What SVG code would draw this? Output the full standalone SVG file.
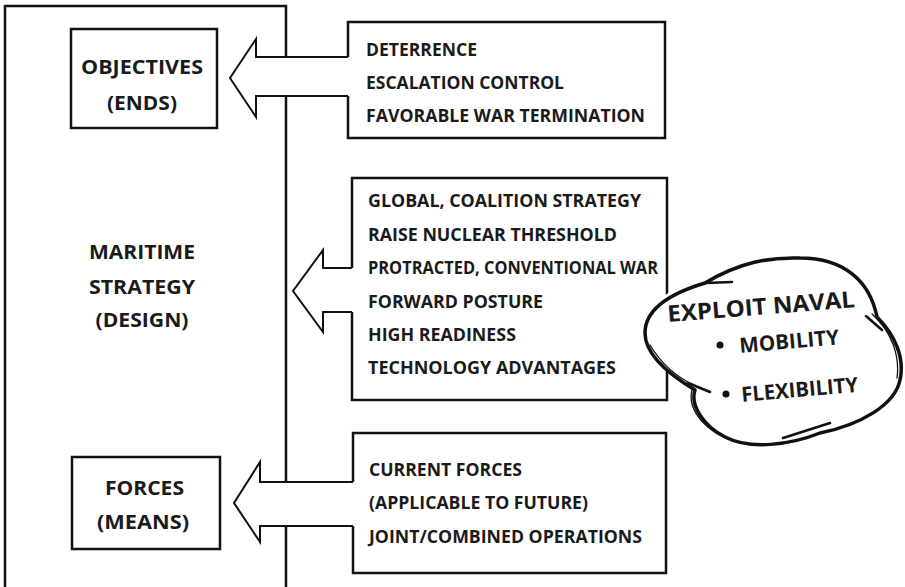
<svg xmlns="http://www.w3.org/2000/svg" width="905" height="587" viewBox="0 0 905 587">
<style>
.t{font-family:"Open Sans","Liberation Sans",sans-serif;font-weight:700;font-size:18px;fill:#1a1a1a}
.c{text-anchor:middle;font-size:19.5px}
.cl{font-size:23px}
.ln{fill:none;stroke:#111;stroke-width:2.5;stroke-linejoin:miter}
.ar{fill:#fff;stroke:none}
.ao{fill:none;stroke:#111;stroke-width:2}
.cloud{fill:none;stroke:#111;stroke-linecap:round;stroke-linejoin:round}
</style>
<rect width="905" height="587" fill="#fff"/>

<g id="frame">
<path class="ln" d="M5,587 V6 H286 V587"/>
</g>

<g id="design">
<text class="t c" x="142" y="259" textLength="106" lengthAdjust="spacingAndGlyphs">MARITIME</text>
<text class="t c" x="142" y="294" textLength="106" lengthAdjust="spacingAndGlyphs">STRATEGY</text>
<text class="t c" x="142" y="327" textLength="93" lengthAdjust="spacingAndGlyphs">(DESIGN)</text>
</g>

<g id="objectives">
<rect class="ln" x="71" y="29" width="146" height="99" fill="#fff"/>
<text class="t c" x="142" y="74" textLength="122" lengthAdjust="spacingAndGlyphs">OBJECTIVES</text>
<text class="t c" x="142" y="110" textLength="70" lengthAdjust="spacingAndGlyphs">(ENDS)</text>
</g>

<g id="forces">
<rect class="ln" x="72" y="457" width="148" height="92" fill="#fff"/>
<text class="t c" x="144.5" y="495" textLength="79" lengthAdjust="spacingAndGlyphs">FORCES</text>
<text class="t c" x="143" y="529" textLength="92" lengthAdjust="spacingAndGlyphs">(MEANS)</text>
</g>

<g id="connectors">
<polygon class="ar" points="350,57 256,57 256,39 230,78 256,117 256,96 350,96"/>
<polyline class="ao" points="348,57 256,57 256,39 230,78 256,117 256,96 348,96"/>
<polygon class="ar" points="354,268 323,268 323,250 293,291 323,332 323,312 354,312"/>
<polyline class="ao" points="352,268 323,268 323,250 293,291 323,332 323,312 352,312"/>
<polygon class="ar" points="355,482 260,482 260,462 234,503 260,542 260,526 355,526"/>
<polyline class="ao" points="353,482 260,482 260,462 234,503 260,542 260,526 353,526"/>
</g>

<g id="ends-list">
<path class="ln" d="M348,57 V22 H665 V138 H348 V96"/>
<text class="t" x="366" y="56" textLength="111" lengthAdjust="spacingAndGlyphs">DETERRENCE</text>
<text class="t" x="366" y="89" textLength="198" lengthAdjust="spacingAndGlyphs">ESCALATION CONTROL</text>
<text class="t" x="366" y="122" textLength="279" lengthAdjust="spacingAndGlyphs">FAVORABLE WAR TERMINATION</text>
</g>

<g id="design-list">
<path class="ln" d="M352,268 V178 H667 V400 H352 V312"/>
<text class="t" x="368" y="207" textLength="273" lengthAdjust="spacingAndGlyphs">GLOBAL, COALITION STRATEGY</text>
<text class="t" x="368" y="241" textLength="249" lengthAdjust="spacingAndGlyphs">RAISE NUCLEAR THRESHOLD</text>
<text class="t" x="368" y="274" textLength="290" lengthAdjust="spacingAndGlyphs">PROTRACTED, CONVENTIONAL WAR</text>
<text class="t" x="368" y="308" textLength="175" lengthAdjust="spacingAndGlyphs">FORWARD POSTURE</text>
<text class="t" x="368" y="341" textLength="148" lengthAdjust="spacingAndGlyphs">HIGH READINESS</text>
<text class="t" x="368" y="374" textLength="248" lengthAdjust="spacingAndGlyphs">TECHNOLOGY ADVANTAGES</text>
</g>

<g id="means-list">
<path class="ln" d="M353,482 V433 H666 V573 H353 V526"/>
<text class="t" x="369" y="476" textLength="153" lengthAdjust="spacingAndGlyphs">CURRENT FORCES</text>
<text class="t" x="369" y="509" textLength="219" lengthAdjust="spacingAndGlyphs">(APPLICABLE TO FUTURE)</text>
<text class="t" x="369" y="543" textLength="273" lengthAdjust="spacingAndGlyphs">JOINT/COMBINED OPERATIONS</text>
</g>

<g id="exploit-naval">
<path d="M663,297 C690,275 740,258 800,258 C845,258 875,285 877,317 C895,335 905,358 900,380 C895,405 860,425 820,433 C790,445 750,450 725,437 C703,426 690,405 695,390 C670,375 645,355 645,333 C645,315 652,305 663,297 Z" fill="#fff" stroke="none"/>
<path class="cloud" stroke-width="3.5" d="M705,283 C740,262 770,257 800,258 C845,258 870,282 877,317 C895,335 905,358 900,380 C895,405 860,425 820,433 C790,445 750,450 725,437 C703,426 690,405 695,390 C670,375 645,355 645,333 C645,312 665,295 705,283"/>
<path class="cloud" stroke-width="1.3" d="M872,314 C892,332 900,356 897,378 M692,390 C688,405 698,424 722,436 M650,345 C662,365 678,378 696,386"/>
<path class="cloud" stroke-width="2.5" d="M705,283 L732,282 M866,316 L882,330 M783,438 L830,423 M688,383 L710,392"/>
<text class="t cl" x="668" y="322" textLength="188" lengthAdjust="spacingAndGlyphs" transform="rotate(-4.5 668 322)">EXPLOIT NAVAL</text>
<circle cx="720" cy="345" r="3.5" fill="#111"/>
<text class="t" style="font-size:21px" x="740" y="353" textLength="100" lengthAdjust="spacingAndGlyphs" transform="rotate(-5 740 353)">MOBILITY</text>
<circle cx="726" cy="394" r="3.5" fill="#111"/>
<text class="t" style="font-size:21px" x="742" y="402" textLength="117" lengthAdjust="spacingAndGlyphs" transform="rotate(-5 742 402)">FLEXIBILITY</text>
</g>
</svg>
